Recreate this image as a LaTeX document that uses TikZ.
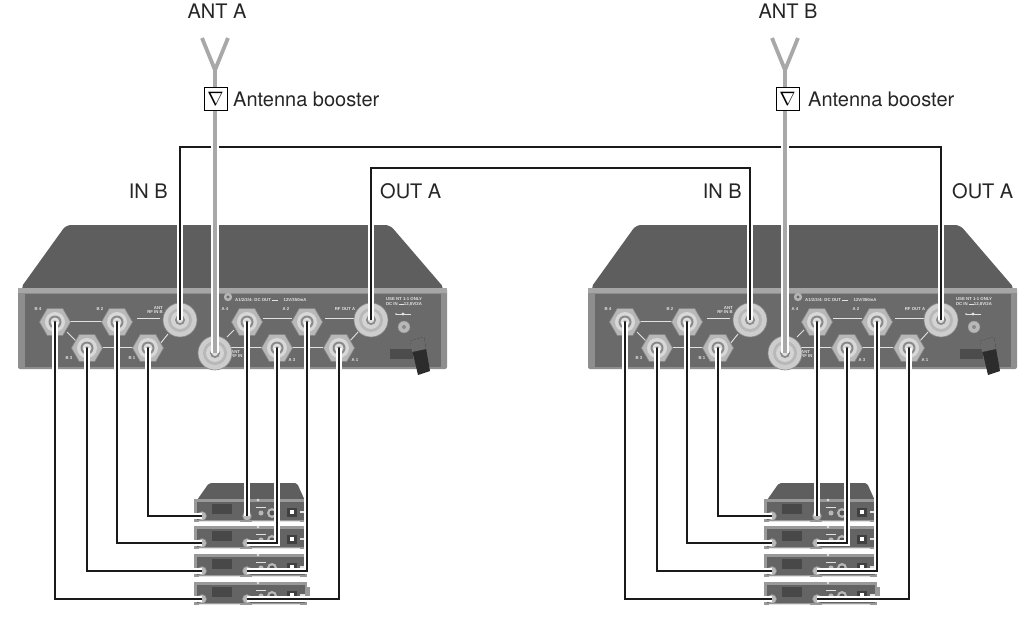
\documentclass[tikz,border=0pt]{standalone}
\usepackage{graphicx}
\usepackage{fontspec}
\setmainfont{TeX Gyre Heros}
\newfontfamily\labfont{Liberation Sans}
\usetikzlibrary{shapes.geometric}
\definecolor{devtop}{HTML}{5E5E5E}
\definecolor{devrim}{HTML}{8E8E8E}
\definecolor{devface}{HTML}{6A6A6A}
\definecolor{devlip}{HTML}{A6A6A6}
\definecolor{nutfill}{HTML}{B8B8B8}
\definecolor{nutedge}{HTML}{8A8A8A}
\definecolor{antgrey}{HTML}{A8A8A8}
\definecolor{cablecol}{HTML}{1A1A1A}
\definecolor{labgrey}{HTML}{E2E2E2}
\definecolor{clipdark}{HTML}{2C2C2C}
\definecolor{rface}{HTML}{646464}
\definecolor{rrim}{HTML}{999999}
\definecolor{rdisp}{HTML}{484848}
\tikzset{
  cable/.style={preaction={draw=white,line width=5.8pt},draw=cablecol,line width=2.8pt},
  antcable/.style={preaction={draw=white,line width=8pt},draw=antgrey,line width=3.8pt},
  antarm/.style={draw=antgrey,line width=3.8pt},
  nut/.style={regular polygon,regular polygon sides=6,minimum size=31pt,inner sep=0pt,fill=nutfill,draw=nutedge,line width=0.6pt},
  bigconn/.style={circle,minimum size=34pt,inner sep=0pt,fill=nutfill!70!white,draw=nutedge,line width=0.6pt},
  rconn/.style={circle,minimum size=9pt,inner sep=0pt,fill=nutfill,draw=nutedge,line width=0.5pt},
  panelline/.style={draw=labgrey,line width=0.9pt},
  tinylab/.style={font=\labfont\bfseries\fontsize{4.3}{4.8}\selectfont,text=labgrey,inner sep=0pt},
  biglab/.style={font=\fontsize{20}{24}\selectfont,inner sep=0pt,text=black!85},
  booster/.style={draw=black,line width=0.9pt,fill=white,minimum size=23pt,inner sep=0pt,font=\fontsize{14.4}{16}\selectfont},
}
\newcommand\nutdeco[1]{%
  \fill[nutfill!55!white] (#1.center) circle (10pt);
  \fill[nutedge] (#1.center) circle (6.5pt);
  \fill[nutfill!45!white] (#1.center) circle (4.5pt);
  \fill[nutedge!70!black] (#1.center) circle (1.6pt);}
\newcommand\bigdeco[1]{%
  \fill[nutfill] (#1.center) circle (12pt);
  \fill[nutfill!60!white] (#1.center) circle (9pt);
  \fill[nutedge] (#1.center) circle (5pt);
  \fill[nutfill!45!white] (#1.center) circle (3pt);}
\newcommand\drawdevice[1]{%
  \fill[devtop,rounded corners=5pt] (20,289) -- (66,225) -- (390,225) -- (445,289) -- cycle;
  \fill[devrim,rounded corners=2pt] (18,288) rectangle (447,369);
  \fill[devlip] (18,288) rectangle (447,293);
  \fill[devface] (25,294) rectangle (441,367);
  % printed lines
  \draw[panelline] (70,321) -- (103,321);
  \draw[panelline] (67,332) -- (77,342);
  \draw[panelline] (103,347) -- (134,347);
  \draw[panelline] (160,344) -- (168,334);
  \draw[panelline] (137,318) -- (160,318);
  \draw[panelline] (227,337) -- (234,330);
  \draw[panelline] (230,347) -- (262,347);
  \draw[panelline] (290,347) -- (323,347);
  \draw[panelline] (263,318) -- (292,318);
  \draw[panelline] (325,318) -- (354,318);
  \draw[panelline] (349,342) -- (358,332);
  % printed texts
  \node[tinylab] (#1-tB4) at (38,309) {B 4};
  \node[tinylab] (#1-tB2) at (100,309) {B 2};
  \node[tinylab,align=right,anchor=east] (#1-tANTB) at (163,310) {ANT\\RF IN B};
  \node[tinylab] (#1-tB3) at (69,358) {B 3};
  \node[tinylab] (#1-tB1) at (132,358) {B 1};
  \node[tinylab,align=left,anchor=west] (#1-tANTA) at (231,354) {ANT\\RF IN};
  \node[tinylab] (#1-tA4) at (225,309) {A 4};
  \node[tinylab] (#1-tA2) at (286,309) {A 2};
  \node[tinylab] (#1-tRFOUT) at (345,309) {RF OUT A};
  \node[tinylab] (#1-tA3) at (292,360) {A 3};
  \node[tinylab] (#1-tA1) at (355,360) {A 1};
  \node[tinylab,anchor=west] (#1-tDCOUT) at (235,300) {A1/2/3/4: DC OUT \rule[1pt]{6pt}{0.6pt}\quad\ 12V/350mA};
  \node[tinylab,align=left] (#1-tDCIN) at (404,302) {USE NT 1-1 ONLY\\DC IN \rule[1pt]{5pt}{0.6pt}12,8V/2A};
  \fill[labgrey!80!black] (228,297) circle (4.2pt);
  \fill[devface] (228,297) circle (1.6pt);
  \draw[labgrey,line width=0.6pt] (396,314) -- (411,314);
  \fill[labgrey] (403,314) circle (1.6pt);
  \fill[labgrey] (396,314) circle (0.9pt);
  % connectors
  \node[nut] (#1-B4) at (55,322) {};  \nutdeco{#1-B4}
  \node[nut] (#1-B3) at (87,348) {};  \nutdeco{#1-B3}
  \node[nut] (#1-B2) at (117,322) {}; \nutdeco{#1-B2}
  \node[nut] (#1-B1) at (148,348) {}; \nutdeco{#1-B1}
  \node[nut] (#1-A4) at (247,322) {}; \nutdeco{#1-A4}
  \node[nut] (#1-A3) at (277,348) {}; \nutdeco{#1-A3}
  \node[nut] (#1-A2) at (307,322) {}; \nutdeco{#1-A2}
  \node[nut] (#1-A1) at (339,348) {}; \nutdeco{#1-A1}
  \node[bigconn] (#1-ANTB) at (180,320) {};  \bigdeco{#1-ANTB}
  \node[bigconn] (#1-ANTA) at (215,353) {};  \bigdeco{#1-ANTA}
  \node[bigconn] (#1-RFOUT) at (371,320) {}; \bigdeco{#1-RFOUT}
  \node[circle,fill=nutfill,draw=nutedge,minimum size=12pt,inner sep=0pt] (#1-DCIN) at (404,327) {};
  \fill[nutedge] (#1-DCIN.center) circle (2pt);
  % cable clip
  \fill[clipdark!85!white] (390,349) rectangle (413,359);
  \fill[clipdark] (410,341) -- (424,337) -- (430,371) -- (418,375) -- cycle;
  \fill[clipdark!70!white] (410,341) -- (424,337) -- (426,349) -- (412,352) -- cycle;
}
\newcommand\drawstack[1]{%
  \fill[devtop,rounded corners=2pt] (195,503) -- (209,483) -- (297,483) -- (306,503) -- cycle;
  \foreach \ty/\rn in {501/1,528/2,556/3,584/4}{
    \fill[rrim] (194,\ty-2) rectangle (307,\ty+21);
    \fill[rface] (197,\ty+1) rectangle (305,\ty+19);
    \fill[rdisp] (212,\ty+3) rectangle (232,\ty+13);
    \draw[labgrey,line width=0.8pt] (199,\ty+20) -- (240,\ty+20) (252,\ty+20) -- (300,\ty+20);
    \fill[nutfill] (272,\ty+12) circle (5pt);
    \fill[nutedge!60!black] (272,\ty+12) circle (2.5pt);
    \fill[nutfill] (261,\ty+12) circle (2.5pt);
    \draw[labgrey,line width=0.7pt] (256,\ty+6) -- (266,\ty+6);
    \fill[black!75] (287,\ty+7) rectangle (297,\ty+16);
    \fill[white] (290,\ty+9) rectangle (294,\ty+13);
    \fill[labgrey] (300,\ty+10) rectangle (309,\ty+12);
    \fill[rrim] (305,\ty+3) rectangle (310,\ty+18);
    \fill[labgrey] (258,\ty-1) circle (1.3pt);
    \node[rconn] (#1-r\rn-L) at (202,\ty+15) {};
    \node[rconn] (#1-r\rn-R) at (247,\ty+15) {};
  }
}
\begin{document}
\begin{tikzpicture}[x=1pt,y=-1pt]
\fill[white] (0,0) rectangle (1034,621);
\useasboundingbox (0,0) rectangle (1034,621);
% devices and receiver stacks
\drawdevice{L}
\drawstack{L}
\begin{scope}[xshift=570pt]
\drawdevice{R}
\drawstack{R}
\end{scope}
% cables to receivers
\foreach \p in {L,R}{
  \draw[cable] (\p-B4.center) |- (\p-r4-L.center);
  \draw[cable] (\p-B3.center) |- (\p-r3-L.center);
  \draw[cable] (\p-B2.center) |- (\p-r2-L.center);
  \draw[cable] (\p-B1.center) |- (\p-r1-L.center);
  \draw[cable] (\p-A4.center) -- (\p-r1-R.center);
  \draw[cable] (\p-A3.center) |- (\p-r2-R.center);
  \draw[cable] (\p-A2.center) |- (\p-r3-R.center);
  \draw[cable] (\p-A1.center) |- (\p-r4-R.center);
}
% cascade cables
\coordinate (busA) at (0,147);
\coordinate (busB) at (0,168);
\draw[cable] (L-ANTB.center) -- (L-ANTB.center |- busA) -| (R-RFOUT.center);
\draw[cable] (L-RFOUT.center) -- (L-RFOUT.center |- busB) -| (R-ANTB.center);
% antennas
\coordinate (L-join) at (215,70);
\coordinate (L-armL) at (202,38);
\coordinate (L-armR) at (228,38);
\coordinate (R-join) at (785,70);
\coordinate (R-armL) at (772,38);
\coordinate (R-armR) at (798,38);
\draw[antcable] (L-join) -- (L-ANTA.center);
\draw[antcable] (R-join) -- (R-ANTA.center);
\draw[antarm] (L-armL) -- (L-join) -- (L-armR);
\draw[antarm] (R-armL) -- (R-join) -- (R-armR);
\node[booster] (L-boost) at (215.5,98.5) {\scalebox{1.35}{$\nabla$}};
\node[booster] (R-boost) at (787.5,98.5) {\scalebox{1.35}{$\nabla$}};
% labels
\node[biglab,anchor=base] (L-antlab) at (217,19) {ANT A};
\node[biglab,anchor=base] (R-antlab) at (788,19) {ANT B};
\node[biglab,anchor=base west] (L-boostlab) at (233,106) {Antenna booster};
\node[biglab,anchor=base west] (R-boostlab) at (808,106) {Antenna booster};
\node[biglab,anchor=base east] (L-inb) at (168,198) {IN B};
\node[biglab,anchor=base west] (L-outa) at (380,198) {OUT A};
\node[biglab,anchor=base east] (R-inb) at (742,198) {IN B};
\node[biglab,anchor=base west] (R-outa) at (952,198) {OUT A};
\end{tikzpicture}
\end{document}
